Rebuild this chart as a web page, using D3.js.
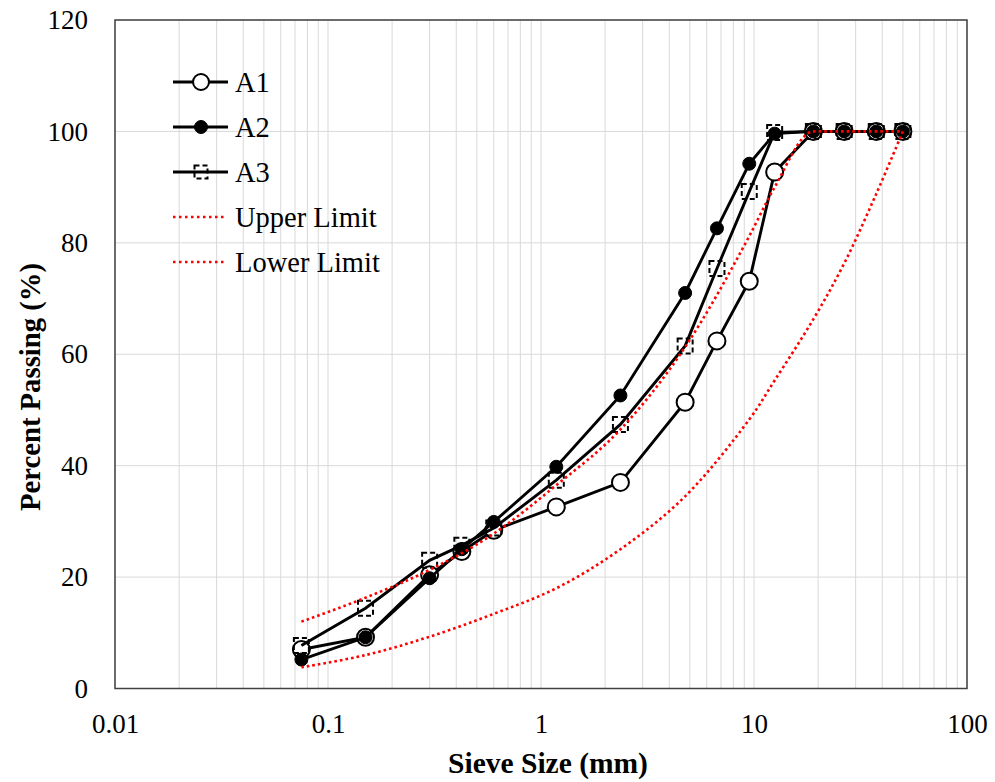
<!DOCTYPE html>
<html>
<head>
<meta charset="utf-8">
<script src="https://cdn.jsdelivr.net/npm/d3@7"></script>
<style>
  body { margin: 0; background: #fff; }
  svg text { font-family: "Liberation Serif", "Times New Roman", serif; fill: #000; }
</style>
</head>
<body>
<div id="chart"></div>
<script>
// sieve sizes (mm)
var sieves = [0.075, 0.15, 0.3, 0.425, 0.6, 1.18, 2.36, 4.75, 6.7, 9.5, 12.5, 19, 26.5, 37.5, 50];
var a1 = [7.0, 9.2, 20.4, 24.6, 28.4, 32.6, 37.0, 51.4, 62.4, 73.1, 92.7, 100, 100, 100, 100];
var a2 = [5.2, 9.2, 19.8, 25.0, 29.9, 39.8, 52.6, 71.0, 82.6, 94.2, 99.6, 100, 100, 100, 100];
var a3 = [7.7, 14.4, 23.0, 25.7, 28.8, 37.4, 47.4, 61.5, 75.4, 89.2, 99.8, 100, 100, 100, 100];

// specification limits
var limitSieves = [0.075, 0.15, 0.3, 0.6, 1.18, 2.36, 4.75, 9.5, 12.5, 19, 26.5, 37.5, 50];
var upper = [12.0, 16.3, 21.3, 27.8, 36.5, 46.5, 61.3, 81.2, 90.0, 100, 100, 100, 100];
var lower = [3.8, 6.0, 9.3, 13.4, 18.0, 25.0, 34.5, 48.3, 55.3, 66.3, 76.3, 88.8, 100];

var xTicks = [0.01, 0.1, 1, 10, 100];
var yTicks = [0, 20, 40, 60, 80, 100, 120];

var width = 995, height = 782;
var plotLeft = 115, plotRight = 967, plotTop = 20, plotBottom = 688.5;

var svg = d3.select("#chart").append("svg")
    .attr("width", width)
    .attr("height", height);

var x = d3.scaleLog().domain([0.01, 100]).range([plotLeft, plotRight]);
var y = d3.scaleLinear().domain([0, 120]).range([plotBottom, plotTop]);

// gridlines
svg.append("g").selectAll("line")
    .data(x.ticks())
    .enter().append("line")
    .attr("x1", function (d) { return x(d); })
    .attr("x2", function (d) { return x(d); })
    .attr("y1", plotTop).attr("y2", plotBottom)
    .attr("stroke", "#d9d9d9").attr("stroke-width", 1);

svg.append("g").selectAll("line")
    .data(yTicks.slice(1))
    .enter().append("line")
    .attr("x1", plotLeft).attr("x2", plotRight)
    .attr("y1", function (d) { return y(d); })
    .attr("y2", function (d) { return y(d); })
    .attr("stroke", "#d9d9d9").attr("stroke-width", 1);

// frame
svg.append("rect")
    .attr("x", plotLeft).attr("y", plotTop)
    .attr("width", plotRight - plotLeft).attr("height", plotBottom - plotTop)
    .attr("fill", "none").attr("stroke", "#404040").attr("stroke-width", 1.5);

// axes
var xAxis = svg.append("g")
    .attr("transform", "translate(0," + plotBottom + ")")
    .call(d3.axisBottom(x).tickValues(xTicks).tickSize(0).tickPadding(25)
        .tickFormat(function (d) { return String(d); }));
var yAxis = svg.append("g")
    .attr("transform", "translate(" + plotLeft + ",0)")
    .call(d3.axisLeft(y).tickValues(yTicks).tickSize(0).tickPadding(27));
[xAxis, yAxis].forEach(function (g) {
    g.select(".domain").remove();
    g.selectAll("text")
        .attr("font-family", "Liberation Serif, Times New Roman, serif")
        .attr("font-size", 27)
        .attr("fill", "#000");
});

svg.append("text")
    .attr("x", 548).attr("y", 773)
    .attr("text-anchor", "middle")
    .attr("font-size", 29.5).attr("font-weight", "bold")
    .text("Sieve Size (mm)");

svg.append("text")
    .attr("transform", "translate(40,387) rotate(-90)")
    .attr("text-anchor", "middle")
    .attr("font-size", 28.7).attr("font-weight", "bold")
    .text("Percent Passing (%)");

// series
var line = d3.line()
    .x(function (d) { return x(d[0]); })
    .y(function (d) { return y(d[1]); });

function pairs(xs, ys) {
    return xs.map(function (s, i) { return [s, ys[i]]; });
}

var series = [
    { name: "A1", values: a1, marker: "open" },
    { name: "A2", values: a2, marker: "filled" },
    { name: "A3", values: a3, marker: "square" }
];

function drawMarker(g, type, size) {
    if (type === "open") {
        g.append("circle").attr("r", size.r)
            .attr("fill", "#fff").attr("stroke", "#000").attr("stroke-width", 2);
    } else if (type === "filled") {
        g.append("circle").attr("r", size.f)
            .attr("fill", "#000").attr("stroke", "#000").attr("stroke-width", 1);
    } else {
        g.append("rect")
            .attr("x", -size.s / 2).attr("y", -size.s / 2)
            .attr("width", size.s).attr("height", size.s)
            .attr("fill", "none").attr("stroke", "#000")
            .attr("stroke-width", 2).attr("stroke-dasharray", "5,3");
    }
}

series.forEach(function (s) {
    var pts = pairs(sieves, s.values);
    svg.append("path")
        .attr("d", line(pts))
        .attr("fill", "none").attr("stroke", "#000").attr("stroke-width", 2.9);
    svg.append("g").selectAll("g")
        .data(pts)
        .enter().append("g")
        .attr("transform", function (d) { return "translate(" + x(d[0]) + "," + y(d[1]) + ")"; })
        .each(function () { drawMarker(d3.select(this), s.marker, { r: 8.5, f: 6.5, s: 15 }); });
});

// smoothed limit curves (upper keeps its flat top)
var limits = [
    { values: upper, curve: d3.curveMonotoneX },
    { values: lower, curve: d3.curveCatmullRom.alpha(0.5) }
];
limits.forEach(function (l) {
    var smooth = d3.line()
        .x(function (d) { return x(d[0]); })
        .y(function (d) { return y(d[1]); })
        .curve(l.curve);
    svg.append("path")
        .attr("d", smooth(pairs(limitSieves, l.values)))
        .attr("fill", "none").attr("stroke", "#ff0000")
        .attr("stroke-width", 2.6).attr("stroke-dasharray", "2.6,3");
});

// legend
var legendItems = [
    { name: "A1", marker: "open" },
    { name: "A2", marker: "filled" },
    { name: "A3", marker: "square" },
    { name: "Upper Limit", marker: "dotted" },
    { name: "Lower Limit", marker: "dotted" }
];
var legend = svg.append("g");
legendItems.forEach(function (item, i) {
    var g = legend.append("g").attr("transform", "translate(0," + (82 + i * 45) + ")");
    if (item.marker === "dotted") {
        g.append("line").attr("x1", 173).attr("x2", 226).attr("y1", 0).attr("y2", 0)
            .attr("stroke", "#ff0000").attr("stroke-width", 2.5).attr("stroke-dasharray", "2.5,3.5");
    } else {
        g.append("line").attr("x1", 173).attr("x2", 228).attr("y1", 0).attr("y2", 0)
            .attr("stroke", "#000").attr("stroke-width", 2.9);
        var m = g.append("g").attr("transform", "translate(201,0)");
        drawMarker(m, item.marker, { r: 8, f: 6.5, s: 13 });
    }
    g.append("text")
        .attr("x", 235).attr("y", 0).attr("dy", "0.35em")
        .attr("font-size", 28.5)
        .text(item.name);
});
</script>
</body>
</html>
